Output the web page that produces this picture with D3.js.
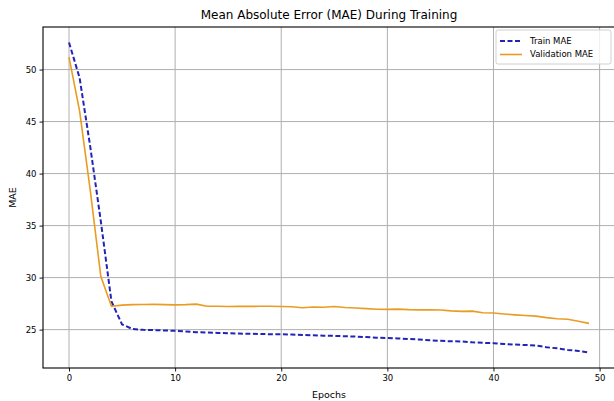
<!DOCTYPE html>
<html>
<head>
<meta charset="utf-8">
<script src="https://cdn.jsdelivr.net/npm/d3@7"></script>
<style>
  body { margin: 0; background: #fff; }
  svg { display: block; font-family: "DejaVu Sans", sans-serif; }
</style>
</head>
<body>
<svg id="chart" width="614" height="401"></svg>
<script>
// MAE per epoch
var epochs = d3.range(0, 50);

var trainMae = [
  52.6, 49.2, 42.6, 35.4, 27.7, 25.5, 25.05, 24.98, 24.95, 24.92,
  24.88, 24.82, 24.75, 24.72, 24.68, 24.65, 24.62, 24.6, 24.58, 24.56,
  24.55, 24.53, 24.48, 24.45, 24.42, 24.4, 24.36, 24.33, 24.28, 24.22,
  24.2, 24.15, 24.1, 24.05, 23.98, 23.92, 23.88, 23.86, 23.78, 23.73,
  23.7, 23.62, 23.56, 23.52, 23.48, 23.3, 23.2, 23.05, 22.95, 22.8
];

var valMae = [
  51.2, 46.0, 38.4, 30.1, 27.25, 27.35, 27.4, 27.42, 27.43, 27.4,
  27.38, 27.4, 27.45, 27.25, 27.24, 27.22, 27.24, 27.23, 27.24, 27.25,
  27.22, 27.2, 27.1, 27.18, 27.15, 27.22, 27.12, 27.08, 27.02, 26.96,
  26.95, 26.97, 26.92, 26.9, 26.9, 26.88, 26.8, 26.75, 26.78, 26.62,
  26.6, 26.5, 26.42, 26.35, 26.3, 26.15, 26.05, 26.0, 25.8, 25.6
];

var xTicks = [0, 10, 20, 30, 40, 50];
var yTicks = [25, 30, 35, 40, 45, 50];

var seriesNames = ["Train MAE", "Validation MAE"];

var svg = d3.select("#chart"),
    margin = {top: 27, right: -1, bottom: 33, left: 43},
    width = +svg.attr("width") - margin.left - margin.right,
    height = +svg.attr("height") - margin.top - margin.bottom,
    g = svg.append("g").attr("transform", "translate(" + margin.left + "," + margin.top + ")");

// matplotlib style 5% padding around the data
var xPad = (d3.max(epochs) - d3.min(epochs)) * 0.05;
var allVals = trainMae.concat(valMae);
var yMin = d3.min(allVals), yMax = d3.max(allVals);
var yPad = (yMax - yMin) * 0.05;

var x = d3.scaleLinear()
    .domain([d3.min(epochs) - xPad, d3.max(epochs) + xPad])
    .range([0, width]);

var y = d3.scaleLinear()
    .domain([yMin - yPad, yMax + yPad])
    .range([height, 0]);

// grid
g.append("g")
  .selectAll("line")
  .data(xTicks)
  .enter().append("line")
    .attr("x1", function(d) { return x(d); })
    .attr("x2", function(d) { return x(d); })
    .attr("y1", 0)
    .attr("y2", height)
    .attr("stroke", "#b0b0b0")
    .attr("stroke-width", 1);

g.append("g")
  .selectAll("line")
  .data(yTicks)
  .enter().append("line")
    .attr("x1", 0)
    .attr("x2", width)
    .attr("y1", function(d) { return y(d); })
    .attr("y2", function(d) { return y(d); })
    .attr("stroke", "#b0b0b0")
    .attr("stroke-width", 1);

var train = d3.line()
    .x(function(d, i) { return x(epochs[i]); })
    .y(function(d) { return y(d); });

g.append("path")
    .datum(trainMae)
    .attr("fill", "none")
    .attr("stroke", "#2323b8")
    .attr("stroke-width", 2)
    .attr("stroke-dasharray", "5,2.5")
    .attr("d", train);

g.append("path")
    .datum(valMae)
    .attr("fill", "none")
    .attr("stroke", "#ea9c22")
    .attr("stroke-width", 1.6)
    .attr("stroke-linejoin", "round")
    .attr("d", train);

// axes
var xAxis = g.append("g")
    .attr("transform", "translate(0," + height + ")")
    .call(d3.axisBottom(x).tickValues(xTicks).tickSize(3.5).tickPadding(3));

var yAxis = g.append("g")
    .call(d3.axisLeft(y).tickValues(yTicks).tickSize(3.5).tickPadding(3));

[xAxis, yAxis].forEach(function(a) {
  a.select(".domain").remove();
  a.selectAll("text").attr("font-size", "8.5px").attr("fill", "#000")
    .attr("font-family", "DejaVu Sans, sans-serif");
  a.selectAll("line").attr("stroke", "#000").attr("stroke-width", 0.9);
});

// spines
g.append("rect")
    .attr("x", 0)
    .attr("y", 0)
    .attr("width", width)
    .attr("height", height)
    .attr("fill", "none")
    .attr("stroke", "#000")
    .attr("stroke-width", 1.1);

// title and labels
svg.append("text")
    .attr("x", margin.left + width / 2)
    .attr("y", 19)
    .attr("text-anchor", "middle")
    .attr("font-size", "12px")
    .text("Mean Absolute Error (MAE) During Training");

svg.append("text")
    .attr("x", margin.left + width / 2)
    .attr("y", 398)
    .attr("text-anchor", "middle")
    .attr("font-size", "9.5px")
    .text("Epochs");

svg.append("text")
    .attr("transform", "translate(16," + (margin.top + height / 2) + ") rotate(-90)")
    .attr("text-anchor", "middle")
    .attr("font-size", "9.5px")
    .text("MAE");

// legend
var legend = svg.append("g").attr("transform", "translate(496,30)");

legend.append("rect")
    .attr("width", 115)
    .attr("height", 34)
    .attr("rx", 2)
    .attr("fill", "#fff")
    .attr("fill-opacity", 0.8)
    .attr("stroke", "#d0d0d0")
    .attr("stroke-width", 1);

var styles = [
  {stroke: "#2323b8", width: 2, dash: "5,2.5"},
  {stroke: "#ea9c22", width: 1.6, dash: null}
];

seriesNames.forEach(function(name, i) {
  var row = legend.append("g").attr("transform", "translate(0," + (11 + i * 13.5) + ")");
  row.append("line")
      .attr("x1", 4)
      .attr("x2", 26)
      .attr("stroke", styles[i].stroke)
      .attr("stroke-width", styles[i].width)
      .attr("stroke-dasharray", styles[i].dash);
  row.append("text")
      .attr("x", 34)
      .attr("dy", "0.35em")
      .attr("font-size", "8.5px")
      .text(name);
});
</script>
</body>
</html>
